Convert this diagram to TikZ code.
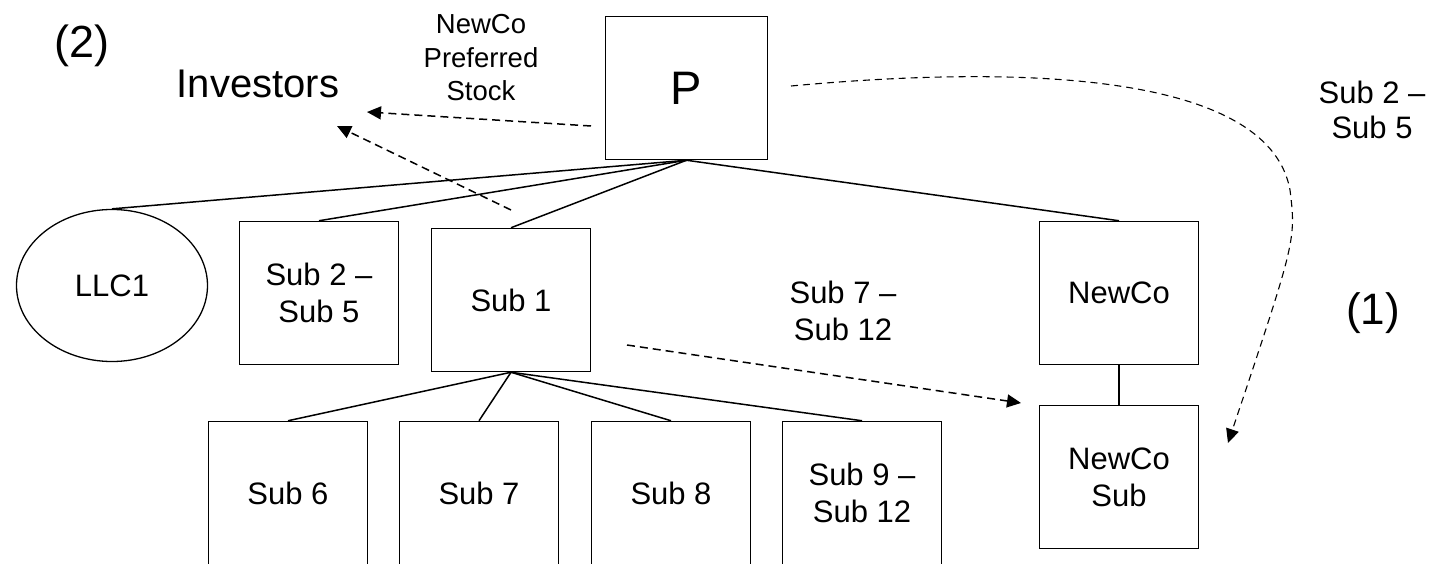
\documentclass[tikz,border=0pt]{standalone}
\usepackage{fontspec}
\setmainfont{Liberation Sans}
\usetikzlibrary{arrows.meta,shapes.geometric}
\begin{document}
\begin{tikzpicture}[x=1pt,y=-1pt,
  box/.style={draw,line width=1.5pt,inner sep=0pt,align=center,font=\fontsize{31}{37}\selectfont},
  tline/.style={line width=1.5pt},
  darrow/.style={line width=1.5pt,dash pattern=on 8pt off 5pt,-{Triangle[length=14pt,width=13pt]}},
  carrow/.style={line width=1.1pt,dash pattern=on 7pt off 5pt,-{Triangle[length=14pt,width=13pt]}},
  lbl/.style={align=center,inner sep=0pt}]
\useasboundingbox (0,0) rectangle (1431,564);
\clip (0,0) rectangle (1431,564);
% top
\node[box,minimum width=162pt,minimum height=143pt,font=\fontsize{47}{56}\selectfont] (P) at (686.5,88) {P};
\node[lbl,font=\fontsize{45}{50}\selectfont] (two) at (82,46) {(2)};
\node[lbl,font=\fontsize{40}{46}\selectfont] (inv) at (258,84) {Investors};
\node[lbl,font=\fontsize{27.5}{33.5}\selectfont] (pref) at (481,58) {NewCo\\Preferred\\Stock};
\node[lbl,font=\fontsize{31}{35}\selectfont] (s25r) at (1372,110) {Sub 2 –\\Sub 5};
\node[lbl,font=\fontsize{44}{50}\selectfont] (one) at (1373,313) {(1)};
% second row
\node[draw,ellipse,line width=1.3pt,minimum width=191pt,minimum height=152pt,inner sep=0pt,font=\fontsize{31}{37}\selectfont] (LLC) at (112,285.5) {LLC1};
\node[box,minimum width=159pt,minimum height=143pt] (S25) at (319,293) {Sub 2 –\\Sub 5};
\node[box,minimum width=159pt,minimum height=143pt] (S1) at (511,300) {Sub 1};
\node[box,minimum width=159pt,minimum height=143pt] (NC) at (1119,293) {NewCo};
\node[box,minimum width=159pt,minimum height=143pt] (NCS) at (1119,477) {NewCo\\Sub};
\node[lbl,font=\fontsize{31}{37}\selectfont] (s712) at (843,311) {Sub 7 –\\Sub 12};
% third row
\node[box,minimum width=159pt,minimum height=143pt] (S6) at (288,493) {Sub 6};
\node[box,minimum width=159pt,minimum height=143pt] (S7) at (479,493) {Sub 7};
\node[box,minimum width=159pt,minimum height=143pt] (S8) at (671,493) {Sub 8};
\node[box,minimum width=159pt,minimum height=143pt] (S9) at (862,493) {Sub 9 –\\Sub 12};
% tree lines
\draw[tline] (P.south) -- (LLC.north);
\draw[tline] (P.south) -- (S25.north);
\draw[tline] (P.south) -- (S1.north);
\draw[tline] (P.south) -- (NC.north);
\draw[tline] (S1.south) -- (S6.north);
\draw[tline] (S1.south) -- (S7.north);
\draw[tline] (S1.south) -- (S8.north);
\draw[tline] (S1.south) -- (S9.north);
\draw[tline] (NC.south) -- (NCS.north);
% dashed arrows
\coordinate (a1s) at (591,126);
\coordinate (a1e) at (367,112);
\coordinate (a2s) at (511,210);
\coordinate (a2e) at (337,126);
\coordinate (a3s) at (627,345);
\coordinate (a3e) at (1021,403);
\coordinate (a4s) at (791,86);
\coordinate (a4m) at (1290,190);
\coordinate (a4e) at (1228,443);
\draw[darrow] (a1s) -- (a1e);
\draw[darrow] (a2s) -- (a2e);
\draw[darrow] (a3s) -- (a3e);
\draw[carrow] (a4s) .. controls (1050,62) and (1270,80) .. (a4m) .. controls (1296,240) .. (a4e);
\end{tikzpicture}
\end{document}
